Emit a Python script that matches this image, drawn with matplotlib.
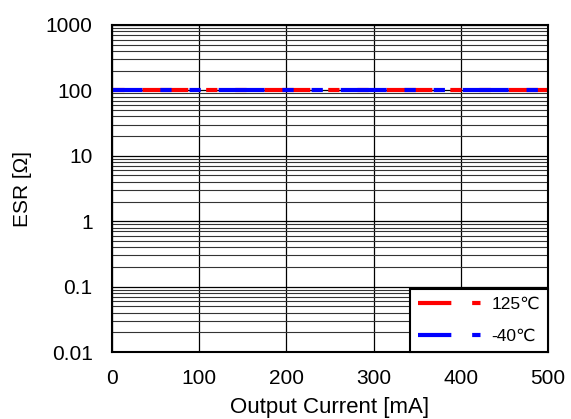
import matplotlib.pyplot as plt
from matplotlib.ticker import FixedLocator, LogLocator, NullFormatter

plt.rcParams['font.family'] = ['Liberation Sans', 'DejaVu Sans']

# data
current = [0, 100, 200, 300, 400, 500]
esr_125 = [100, 100, 100, 100, 100, 100]
esr_m40 = [100, 100, 100, 100, 100, 100]
yticks = [0.01, 0.1, 1, 10, 100, 1000]
ylabels = ['0.01', '0.1', '1', '10', '100', '1000']

fig = plt.figure(figsize=(5.71, 4.19), dpi=100)
ax = fig.add_axes([112/571, 1 - 352/419, 436/571, 327/419])

# long dash - short - short, blue on top with a shifted phase
pat = (11, 4.3, 2.7, 4.3, 2.7, 4.3)
ax.plot(current, esr_125, color='#ff0000', lw=3, linestyle=(22, pat), label='125℃')
ax.plot(current, esr_m40, color='#0000ff', lw=3, linestyle=(3.7, pat), label='-40℃')

ax.set_yscale('log')
ax.set_xlim(0, 500)
ax.set_ylim(0.01, 1000)
ax.set_xticks([0, 100, 200, 300, 400, 500])
ax.yaxis.set_major_locator(FixedLocator(yticks))
ax.set_yticklabels(ylabels)
ax.yaxis.set_minor_locator(LogLocator(base=10, subs=range(2, 10), numticks=20))
ax.yaxis.set_minor_formatter(NullFormatter())

ax.grid(True, which='major', color='black', lw=0.9)
ax.grid(True, which='minor', axis='y', color='#333333', lw=0.8)
ax.tick_params(which='both', length=0, labelsize=15)
ax.tick_params(axis='y', pad=14)
ax.tick_params(axis='x', pad=12)
for s in ax.spines.values():
    s.set_linewidth(1.5)

ax.set_xlabel('Output Current [mA]', fontsize=16, labelpad=7)
ax.set_ylabel('ESR [Ω]', fontsize=15, labelpad=10)

leg = ax.legend(loc='lower right', fontsize=12.5, handlelength=3.9, borderaxespad=0,
                fancybox=False, framealpha=1, edgecolor='black', labelspacing=1.0,
                borderpad=0.45, handletextpad=0.35)
leg.get_frame().set_linewidth(1.5)
# legend samples start with the long dash
for ln in leg.get_lines():
    ln.set_linestyle((0, (8, 5, 2, 4.7, 3.3, 5)))

fig.savefig('out.png', dpi=100)
